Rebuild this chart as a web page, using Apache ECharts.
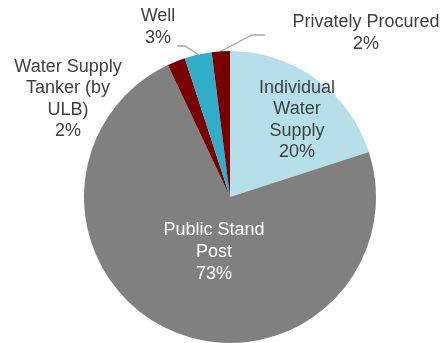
<!DOCTYPE html>
<html>
<head>
<meta charset="utf-8">
<script src="https://cdn.jsdelivr.net/npm/echarts@6/dist/echarts.min.js"></script>
<style>
  html, body { margin: 0; padding: 0; background: #fff; }
  #chart { width: 444px; height: 343px; }
</style>
</head>
<body>
<div id="chart"></div>
<script>
// Water supply sources, share of households (%)
const categories = [
  'Individual Water Supply',
  'Public Stand Post',
  'Water Supply Tanker (by ULB)',
  'Well',
  'Privately Procured'
];
const shares = [20, 73, 2, 3, 2];
const labelLines = [
  ['Individual', 'Water', 'Supply'],
  ['Public Stand', 'Post'],
  ['Water Supply', 'Tanker (by', 'ULB)'],
  ['Well'],
  ['Privately Procured']
];

const colors = ['#B5E0EA', '#808080', '#780000', '#30ADCA', '#780000'];
const textColors = ['#404040', '#ffffff', '#404040', '#404040', '#404040'];
const FONT = '"Liberation Sans", Arial, sans-serif';

// label anchor placement (centre of each text block) and leader-line bends
const labelSpots = [
  { x: 297, y: 120 },
  { x: 214, y: 252 },
  { x: 68, y: 99 },
  { x: 158, y: 27 },
  { x: 366, y: 33 }
];
const leaderBends = {
  3: [[185, 46], [177, 46]],
  4: [[252, 35], [265, 35]]
};

const chart = echarts.init(document.getElementById('chart'), null, { renderer: 'canvas' });

const data = categories.map((name, i) => ({
  name: name,
  value: shares[i],
  itemStyle: { color: colors[i] },
  label: {
    show: true,
    position: i < 2 ? 'inside' : 'outside',
    color: textColors[i],
    formatter: labelLines[i].join('\n') + '\n' + shares[i] + '%'
  },
  labelLine: { show: i >= 3 }
}));

chart.setOption({
  animation: false,
  backgroundColor: '#ffffff',
  series: [{
    type: 'pie',
    center: [230, 197],
    radius: [0, 146],
    startAngle: 90,
    clockwise: true,
    avoidLabelOverlap: false,
    itemStyle: { borderWidth: 0 },
    label: {
      fontFamily: FONT,
      fontSize: 18,
      lineHeight: 21.6,
      align: 'center'
    },
    labelLine: {
      lineStyle: { color: '#A6A6A6', width: 1.3 }
    },
    labelLayout: function (params) {
      const i = params.dataIndex;
      const spot = labelSpots[i];
      const out = { x: spot.x, y: spot.y, align: 'center', verticalAlign: 'middle' };
      if (leaderBends[i] && params.labelLinePoints) {
        const start = params.labelLinePoints[0];
        out.labelLinePoints = [start].concat(leaderBends[i]);
      }
      return out;
    },
    data: data
  }]
});
</script>
</body>
</html>
